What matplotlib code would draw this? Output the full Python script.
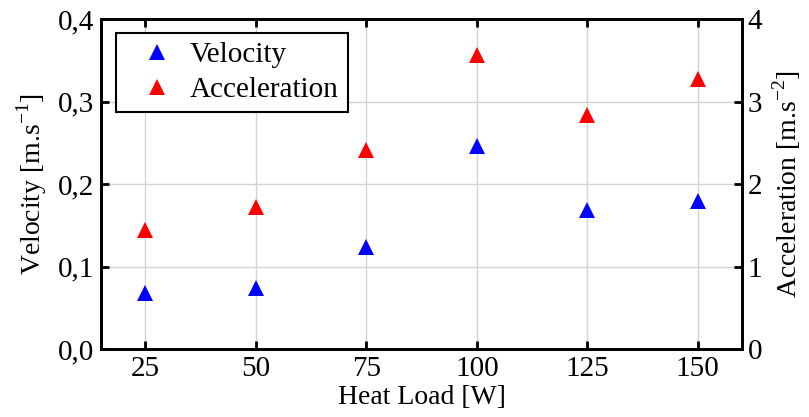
import matplotlib
matplotlib.use('Agg')
import matplotlib.pyplot as plt
from matplotlib.ticker import FuncFormatter

heat_load = [25, 50, 75, 100, 125, 150]
velocity = [0.068, 0.074, 0.124, 0.246, 0.168, 0.180]
acceleration = [1.44, 1.72, 2.41, 3.56, 2.84, 3.28]

plt.rcParams['font.family'] = ['Liberation Serif', 'DejaVu Serif']
plt.rcParams['mathtext.fontset'] = 'custom'
plt.rcParams['mathtext.rm'] = 'Liberation Serif'

fig = plt.figure(figsize=(8.09, 4.17), dpi=100)
ax = fig.add_axes([0.1248, 0.163, 0.7924, 0.791])
ax2 = ax.twinx()

ax.grid(True, color='#d3d3d3', linewidth=1.0, zorder=0)
ax.set_axisbelow(True)

l1, = ax.plot(heat_load, velocity, '^', color='blue', ms=11, mew=0,
              linestyle='none', label='Velocity')
l2, = ax2.plot(heat_load, acceleration, '^', color='red', ms=11, mew=0,
               linestyle='none', label='Acceleration')

ax.set_xlim(15, 160)
ax.set_ylim(0, 0.4)
ax2.set_ylim(0, 4)
ax.set_xticks(heat_load)
ax.set_yticks([0, 0.1, 0.2, 0.3, 0.4])
ax2.set_yticks([0, 1, 2, 3, 4])
ax.yaxis.set_major_formatter(FuncFormatter(lambda v, p: ('%.1f' % v).replace('.', ',')))

ax.tick_params(axis='both', direction='in', length=6, width=2, labelsize=21, top=True)
ax.tick_params(axis='x', pad=5)
ax.tick_params(axis='y', pad=5)
ax2.tick_params(axis='y', direction='in', length=6, width=2, labelsize=21, pad=4)

for a in (ax, ax2):
    for s in a.spines.values():
        s.set_linewidth(2)

ax.set_xlabel('Heat Load [W]', fontsize=20, labelpad=2)
ax.set_ylabel(r'Velocity [m.s$^{\mathrm{-1}}$]', fontsize=20, labelpad=6)
ax2.set_ylabel(r'Acceleration [m.s$^{\mathrm{-2}}$]', fontsize=20, labelpad=6)

leg = ax.legend(handles=[l1, l2], loc='upper left', bbox_to_anchor=(0.023, 0.958),
                borderaxespad=0, fontsize=21, fancybox=False, framealpha=1,
                edgecolor='black', borderpad=0.3, handletextpad=0.05,
                labelspacing=0.3, handlelength=2.2)
leg.get_frame().set_linewidth(1.5)

plt.savefig('out.png', dpi=100)
